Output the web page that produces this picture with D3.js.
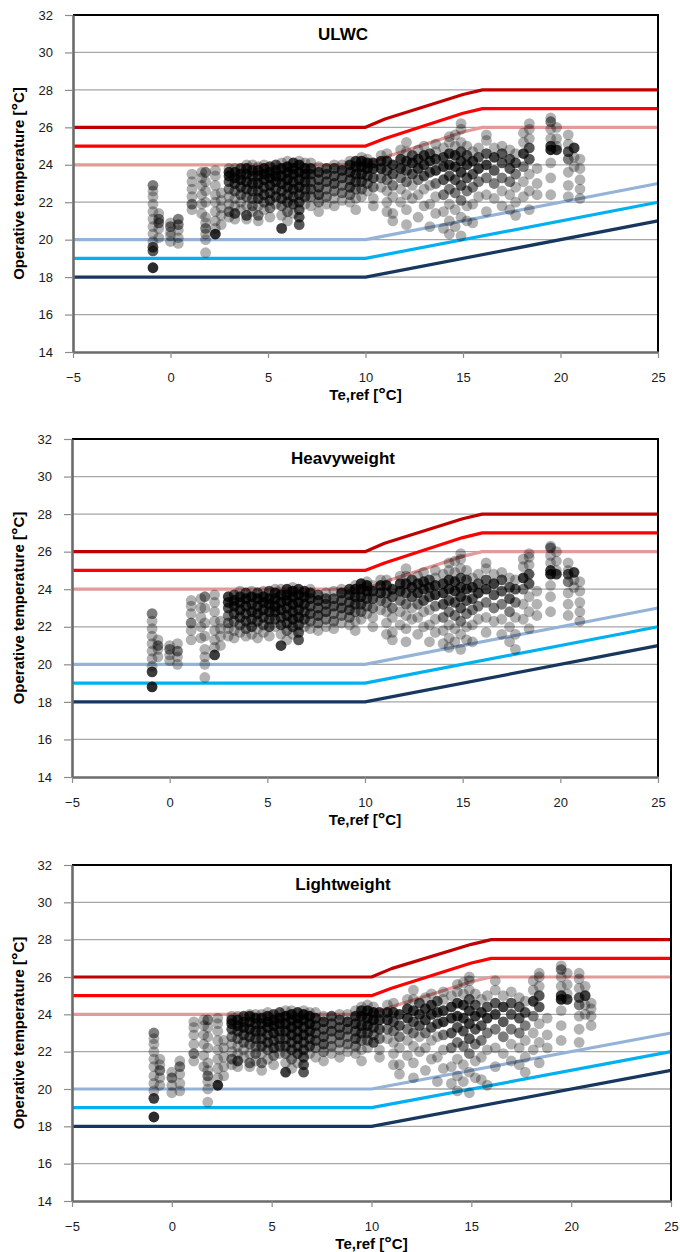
<!DOCTYPE html>
<html>
<head>
<meta charset="utf-8">
<script src="https://cdn.jsdelivr.net/npm/d3@7"></script>
<style>
  body { margin: 0; background: #fff; }
  svg { display: block; font-family: "Liberation Sans", Arial, sans-serif; }
</style>
</head>
<body>
<div class="canvas"></div>
<script>
// axis ticks
const xTicks = [-5, 0, 5, 10, 15, 20, 25];
const yTicks = [14, 16, 18, 20, 22, 24, 26, 28, 30, 32];

// comfort limits (upper bands bend between 10 and 16 °C)
const upperTe = [-5, 10, 11, 15, 16, 25];
const upperIII = [26, 26, 26.45, 27.75, 28, 28];
const upperII = [25, 25, 25.4, 26.75, 27, 27];
const upperI = [24, 24, 24.4, 25.75, 26, 26];
const lowerTe = [-5, 10, 25];
const lowerI = [20, 20, 23];
const lowerII = [19, 19, 22];
const lowerIII = [18, 18, 21];

// measured points: [Te,ref, [Top ... ]]  ([Top, n] = n readings on the same spot)
const ulwcPoints = [
  [-0.9, [[18.5,5], [19.4,3], [19.6,3], 19.9, 20.3, 20.7, 21.1, 21.5, 21.9, 22.3, 22.6, [22.9,2]]],
  [-0.6, [20.1, 20.6, [20.9,2], [21.1,2], 21.4]],
  [0.0, [19.9, 20.2, 20.4, [20.7,2], 20.9]],
  [0.4, [19.8, 20.1, 20.5, [20.8,2], [21.1,2]]],
  [1.1, [21.6, [21.9,2], 22.3, 22.7, 23.1, 23.5]],
  [1.6, [21.4, 21.9, 22.4, 22.9, 23.3, 23.6]],
  [1.8, [19.3, 20.0, 20.3, [20.6,2], 20.9, 21.2, 22.0, 22.6, 23.1, [23.6,2]]],
  [2.3, [[20.3,5], 20.6, 21.0, 21.5, 22.0, 22.4, 22.9, 23.4, 23.7]],
  [2.6, [20.8, 21.3, 21.7, 22.1, 22.5]],
  [3.0, [21.2, [21.5,2], 21.9, 22.3, [22.7,2], [23.1,3], [23.4,4], [23.6,4], 23.8]],
  [3.3, [21.1, [21.4,3], 21.8, 22.2, [22.6,2], [23.0,3], [23.3,4], [23.6,4], 23.8]],
  [3.6, [21.6, 22.0, [22.4,2], [22.8,3], [23.2,4], [23.5,4], [23.8,3]]],
  [3.9, [21.1, [21.3,3], 21.8, [22.3,2], [22.7,3], [23.1,4], [23.5,4], [23.8,4], 24.0]],
  [4.2, [21.5, [21.8,2], [22.2,2], [22.6,3], [23.0,4], [23.4,4], [23.7,4], 24.0]],
  [4.5, [21.0, [21.3,2], 21.8, [22.2,3], [22.6,3], [23.0,4], [23.4,4], [23.7,4], 23.9]],
  [4.8, [21.6, [22.0,2], [22.4,3], [22.8,3], [23.2,4], [23.5,5], [23.8,4], 24.0]],
  [5.1, [21.2, [21.7,2], [22.1,3], [22.5,3], [22.9,4], [23.3,5], [23.6,5], [23.9,3]]],
  [5.4, [21.9, [22.3,3], [22.7,3], [23.1,4], [23.4,5], [23.7,5], [24.0,3]]],
  [5.7, [[20.6,4], 21.3, [21.8,2], [22.2,3], [22.6,3], [23.0,4], [23.4,5], [23.8,5], 24.1]],
  [6.0, [21.0, [21.5,2], [22.0,3], [22.4,3], [22.8,4], [23.2,5], [23.6,5], [23.9,5], 24.2]],
  [6.3, [21.4, [21.9,3], [22.3,3], [22.7,4], [23.1,4], [23.5,5], [23.8,5], [24.1,4]]],
  [6.6, [[20.8,3], [21.2,3], [21.6,3], [22.0,3], [22.4,3], [22.8,4], [23.2,4], [23.6,5], [24.0,5], 24.2]],
  [6.9, [21.9, [22.3,3], [22.7,3], [23.1,4], [23.5,5], [23.8,5], 24.1]],
  [7.2, [21.8, [22.3,2], [22.7,3], [23.1,3], [23.5,4], [23.8,4], 24.1]],
  [7.6, [21.5, [22.0,2], [22.4,3], [22.8,3], [23.2,3], [23.6,4], 23.9]],
  [8.0, [21.9, [22.3,2], [22.7,2], [23.1,3], [23.5,3], [23.8,3]]],
  [8.4, [21.8, 22.2, [22.6,2], [23.0,3], [23.4,3], [23.8,3], 24.0]],
  [8.8, [22.1, [22.5,2], [22.9,2], [23.3,3], [23.7,4], 24.0]],
  [9.2, [22.0, [22.4,2], [22.8,3], [23.2,3], [23.6,4], [24.0,4], 24.2]],
  [9.5, [21.6, 22.2, [22.7,2], [23.1,3], [23.5,4], [23.9,5], [24.2,4]]],
  [9.8, [22.3, [22.7,2], [23.1,3], [23.5,4], [23.9,5], [24.2,5], 24.4]],
  [10.1, [22.6, [23.0,2], [23.4,3], [23.8,5], [24.1,5], 24.3]],
  [10.4, [21.8, 22.2, [22.8,2], [23.3,3], [23.8,4], [24.1,4]]],
  [10.8, [22.8, [23.3,2], [23.8,4], [24.2,4], 24.5]],
  [11.1, [21.5, 22.0, 22.6, [23.2,2], [23.7,3], [24.2,4], 24.6]],
  [11.4, [21.0, 21.4, 22.3, [22.9,2], [23.5,3], [24.0,4]]],
  [11.8, [22.0, 22.7, [23.3,2], [23.8,4], [24.3,4], 24.8]],
  [12.1, [20.8, 21.6, 22.4, [23.1,2], [23.7,3], [24.2,4], 24.7, 25.2]],
  [12.4, [22.2, 22.9, [23.5,3], [24.1,4], [24.5,3]]],
  [12.7, [21.2, 22.4, [23.2,2], [23.8,4], [24.3,4], 24.8]],
  [13.0, [21.8, 22.7, [23.4,3], [24.0,4], [24.5,4], 25.0]],
  [13.3, [20.7, 21.9, 22.9, [23.6,3], [24.2,4], [24.6,3]]],
  [13.6, [21.4, 22.3, [23.0,2], [23.7,4], [24.3,4], 24.7, 25.1]],
  [14.0, [20.6, 21.5, [22.4,2], [23.2,3], [23.9,4], [24.4,4], 24.9]],
  [14.3, [20.3, 21.0, 21.9, [22.7,2], [23.4,3], [24.0,4], [24.6,4], 25.2, 25.5]],
  [14.6, [20.7, 21.6, [22.5,2], [23.2,3], [23.9,4], [24.5,4], 25.0, 25.6]],
  [14.9, [20.2, 21.2, [22.1,2], [22.9,3], [23.6,4], [24.2,4], [24.7,3], 25.2, 25.9, 26.2]],
  [15.2, [21.0, 21.8, [22.6,2], [23.3,3], [24.0,4], [24.5,3], 25.0]],
  [15.5, [20.9, 21.9, [22.8,2], [23.5,3], [24.2,4], 24.7]],
  [15.8, [22.3, [23.1,2], [23.8,4], [24.4,3], 24.9]],
  [16.2, [21.5, 22.4, [23.3,2], [24.0,4], [24.6,3], 25.3, 25.6]],
  [16.6, [22.2, [23.0,2], [23.7,3], [24.4,4], 24.9]],
  [17.0, [21.8, 22.6, [23.3,2], [24.1,3], [24.6,3], 25.0]],
  [17.4, [21.6, 22.4, [23.1,2], [23.8,3], [24.3,3], 24.8]],
  [17.7, [21.3, 22.0, 22.8, [23.5,2], [24.1,3], 24.6]],
  [18.1, [22.3, 23.1, [23.9,2], [24.6,4], 25.2, 25.7]],
  [18.4, [21.6, 22.6, 23.5, [24.3,3], [24.9,3], 25.4, 25.9, 26.2]],
  [18.8, [22.4, 23.0, 23.8]],
  [19.5, [22.4, 23.3, 24.1, [24.8,5], [25.0,4], 25.4, 25.9, [26.3,2], 26.5]],
  [19.8, [[24.8,4], 25.0, 25.4, 26.0]],
  [20.4, [22.3, 22.9, 23.6, [24.3,2], [24.7,3], 25.1, 25.6]],
  [20.7, [23.9, 24.4, [24.9,4]]],
  [21.0, [22.2, 22.7, 23.2, 23.8, 24.3]]
];

const heavyPoints = [
  [-0.9, [[18.8,5], [19.6,4], 19.9, 20.3, 20.7, 21.1, 21.5, 21.9, 22.3, [22.7,2]]],
  [-0.6, [20.4, 20.8, [21.0,2], 21.3]],
  [0.0, [20.2, 20.5, [20.8,2], 21.0]],
  [0.4, [20.0, 20.4, [20.7,2], 21.1]],
  [1.1, [21.3, 21.8, [22.2,2], 22.7, 23.1, 23.4]],
  [1.6, [21.4, 22.0, 22.5, 23.0, 23.5]],
  [1.8, [19.3, 20.0, 20.4, 20.8, 21.5, 22.2, 23.0, [23.6,2]]],
  [2.3, [[20.5,4], 20.9, 21.3, 21.8, 22.3, 22.8, 23.3, 23.7]],
  [2.6, [21.0, 21.5, 21.9, 22.3]],
  [3.0, [21.5, 21.9, [22.2,2], [22.6,2], [23.0,3], [23.3,4], [23.6,4]]],
  [3.3, [21.4, 21.8, [22.3,2], [22.7,3], [23.1,4], [23.4,4], [23.7,3]]],
  [3.6, [21.7, [22.1,2], [22.5,3], [22.9,4], [23.3,4], [23.6,4], 23.9]],
  [3.9, [21.5, [21.9,2], [22.3,3], [22.7,3], [23.1,4], [23.5,5], [23.8,3]]],
  [4.2, [21.6, [22.0,3], [22.4,3], [22.8,4], [23.2,4], [23.6,5], 23.9]],
  [4.5, [21.4, 21.9, [22.3,3], [22.7,4], [23.1,4], [23.5,5], [23.8,3]]],
  [4.8, [21.7, [22.1,2], [22.5,3], [22.9,4], [23.3,5], [23.6,5], 23.9]],
  [5.1, [21.5, [22.0,3], [22.4,3], [22.8,4], [23.2,5], [23.5,5], [23.9,3]]],
  [5.4, [22.0, [22.4,3], [22.8,4], [23.1,5], [23.5,5], [23.8,4], 24.0]],
  [5.7, [[21.0,4], 21.6, [22.1,3], [22.5,3], [22.9,4], [23.3,5], [23.7,5], 24.0]],
  [6.0, [21.3, [21.8,2], [22.2,3], [22.6,4], [23.0,4], [23.4,5], [23.7,5], [24.0,4]]],
  [6.3, [21.6, [22.0,3], [22.4,4], [22.8,4], [23.2,5], [23.6,5], [23.9,5], 24.1]],
  [6.6, [[21.3,3], [21.7,3], [22.1,3], [22.5,4], [22.9,4], [23.3,5], [23.7,5], [24.0,4]]],
  [6.9, [22.0, [22.4,3], [22.8,3], [23.2,4], [23.6,5], [23.9,4]]],
  [7.2, [21.9, [22.3,2], [22.7,3], [23.1,3], [23.5,4], [23.8,4], 24.0]],
  [7.6, [21.8, [22.2,2], [22.6,3], [23.0,3], [23.4,4], [23.7,3]]],
  [8.0, [22.0, [22.4,2], [22.8,3], [23.2,3], [23.5,3], 23.8]],
  [8.4, [21.9, [22.3,2], [22.7,2], [23.1,3], [23.5,3], 23.9]],
  [8.8, [22.2, [22.6,2], [23.0,3], [23.4,3], [23.8,4], 24.0]],
  [9.2, [22.1, [22.5,2], [22.9,3], [23.3,3], [23.7,4], [24.0,4]]],
  [9.5, [21.8, 22.3, [22.8,2], [23.2,3], [23.6,4], [24.0,5], 24.2]],
  [9.8, [22.4, [22.8,2], [23.2,3], [23.6,4], [24.0,5], [24.3,5]]],
  [10.1, [22.7, [23.1,2], [23.5,3], [23.9,5], [24.2,5], 24.4]],
  [10.4, [22.0, 22.5, [23.0,2], [23.5,3], [23.9,4], 24.2]],
  [10.8, [22.9, [23.4,2], [23.8,4], [24.2,4], 24.5]],
  [11.1, [21.6, 22.2, 22.8, [23.3,2], [23.8,3], [24.2,4], 24.5]],
  [11.4, [21.3, 21.7, 22.5, [23.0,2], [23.6,3], [24.0,4]]],
  [11.8, [22.1, 22.8, [23.4,2], [23.9,4], [24.3,4], 24.7]],
  [12.1, [21.2, 21.9, 22.6, [23.2,2], [23.8,3], [24.3,4], 24.7, 25.1]],
  [12.4, [22.4, 23.0, [23.6,3], [24.1,4], [24.5,3]]],
  [12.7, [21.6, 22.5, [23.2,2], [23.8,4], [24.3,4], 24.7]],
  [13.0, [22.0, 22.8, [23.4,3], [24.0,4], [24.4,4], 24.9]],
  [13.3, [21.2, 22.1, 22.9, [23.6,3], [24.1,4], [24.5,3]]],
  [13.6, [21.7, 22.4, [23.1,2], [23.7,4], [24.2,4], 24.6, 25.0]],
  [14.0, [21.1, 21.8, [22.5,2], [23.2,3], [23.8,4], [24.3,4], 24.8]],
  [14.3, [20.9, 21.4, 22.1, [22.8,2], [23.4,3], [24.0,4], [24.5,4], 25.0, 25.4]],
  [14.6, [21.2, 21.9, [22.6,2], [23.3,3], [23.9,4], [24.4,4], 24.9, 25.5]],
  [14.9, [20.8, 21.6, [22.3,2], [23.0,3], [23.6,4], [24.1,4], [24.6,3], 25.1, 25.6, 25.9]],
  [15.2, [21.3, 22.0, [22.7,2], [23.4,3], [24.0,4], [24.5,3], 25.0]],
  [15.5, [21.2, 22.1, [22.9,2], [23.5,3], [24.1,4], 24.6]],
  [15.8, [22.4, [23.1,2], [23.8,4], [24.3,3], 24.8]],
  [16.2, [21.7, 22.5, [23.3,2], [24.0,4], [24.5,3], 25.1, 25.4]],
  [16.6, [22.3, [23.0,2], [23.7,3], [24.3,4], 24.8]],
  [17.0, [21.6, 22.4, [23.2,2], [23.9,3], [24.5,3], 24.9]],
  [17.4, [21.2, 22.0, [22.8,2], [23.5,3], [24.1,3], 24.6]],
  [17.7, [20.8, 21.6, 22.5, [23.3,2], [24.0,3], 24.5]],
  [18.1, [22.4, 23.2, [24.0,2], [24.6,4], 25.2, 25.6]],
  [18.4, [21.9, 22.8, 23.6, [24.3,3], [24.8,3], 25.3, 25.7, 25.9]],
  [18.8, [22.6, 23.2, 23.9]],
  [19.5, [22.8, 23.6, 24.2, [24.8,5], [25.0,4], 25.4, 25.8, [26.2,2], 26.3]],
  [19.8, [[24.8,4], 25.0, 25.5, 26.0]],
  [20.4, [22.6, 23.2, 23.8, [24.4,2], [24.8,3], 25.0, 25.4]],
  [20.7, [24.1, 24.5, [24.9,4]]],
  [21.0, [22.3, 22.8, 23.3, 23.9, 24.4]]
];

const lightPoints = [
  [-0.9, [[18.5,5], [19.5,4], 19.9, 20.3, 20.7, 21.2, 21.6, 22.0, 22.4, 22.7, [23.0,2]]],
  [-0.6, [20.2, 20.6, [21.0,2], 21.3, 21.6]],
  [0.0, [19.8, 20.2, [20.6,2], 20.9]],
  [0.4, [19.9, 20.3, 20.8, [21.2,2], 21.5]],
  [1.1, [21.5, [21.9,2], 22.4, 22.9, 23.3, 23.6]],
  [1.6, [21.2, 21.8, 22.4, 22.9, 23.4, 23.7]],
  [1.8, [19.3, 20.0, 20.4, [20.7,2], 21.0, 21.4, 22.2, 22.8, 23.3, [23.7,2]]],
  [2.3, [[20.2,5], 20.6, 21.1, 21.6, 22.1, 22.6, 23.1, 23.5, 23.8]],
  [2.6, [20.7, 21.2, 21.7, 22.2, 22.6]],
  [3.0, [21.3, [21.6,2], 22.0, 22.4, [22.8,2], [23.2,3], [23.5,4], [23.7,4], 23.9]],
  [3.3, [21.2, [21.5,3], 21.9, 22.3, [22.7,2], [23.1,3], [23.4,4], [23.7,4], 23.9]],
  [3.6, [21.7, 22.1, [22.5,2], [22.9,3], [23.3,4], [23.6,4], [23.9,3]]],
  [3.9, [21.2, [21.4,2], 21.9, [22.4,2], [22.8,3], [23.2,4], [23.6,4], [23.9,4], 24.0]],
  [4.2, [21.5, [21.9,2], [22.3,2], [22.7,3], [23.1,4], [23.5,4], [23.8,4], 24.0]],
  [4.5, [21.0, [21.4,2], 21.9, [22.3,3], [22.7,3], [23.1,4], [23.5,4], [23.8,4], 24.0]],
  [4.8, [21.6, [22.1,2], [22.5,3], [22.9,3], [23.3,4], [23.6,5], [23.9,4], 24.1]],
  [5.1, [21.3, [21.8,2], [22.2,3], [22.6,3], [23.0,4], [23.4,5], [23.7,5], [24.0,3]]],
  [5.4, [21.9, [22.3,3], [22.7,3], [23.1,4], [23.5,5], [23.8,5], [24.1,3]]],
  [5.7, [[20.9,4], 21.4, [21.9,2], [22.3,3], [22.7,3], [23.1,4], [23.5,5], [23.9,5], 24.2]],
  [6.0, [21.1, [21.6,2], [22.1,3], [22.5,3], [22.9,4], [23.3,5], [23.7,5], [24.0,5], 24.2]],
  [6.3, [21.4, [21.9,3], [22.3,3], [22.7,4], [23.1,4], [23.5,5], [23.8,5], [24.1,4]]],
  [6.6, [[20.9,3], [21.3,3], [21.7,3], [22.1,3], [22.5,3], [22.9,4], [23.3,4], [23.7,5], [24.0,5], 24.2]],
  [6.9, [21.9, [22.3,3], [22.7,3], [23.1,4], [23.5,5], [23.9,5], 24.1]],
  [7.2, [21.7, [22.2,2], [22.6,3], [23.0,3], [23.4,4], [23.8,4], 24.1]],
  [7.6, [21.5, [22.0,2], [22.4,3], [22.8,3], [23.2,3], [23.6,4], 23.9]],
  [8.0, [21.9, [22.3,2], [22.7,2], [23.1,3], [23.5,3], [23.9,3]]],
  [8.4, [21.7, 22.1, [22.5,2], [22.9,3], [23.3,3], [23.7,3], 24.0]],
  [8.8, [22.0, [22.4,2], [22.8,2], [23.2,3], [23.6,4], 24.0]],
  [9.2, [21.9, [22.3,2], [22.7,3], [23.1,3], [23.5,4], [23.9,4], 24.2]],
  [9.5, [21.5, 22.1, [22.6,2], [23.0,3], [23.4,4], [23.9,5], [24.2,4], 24.4]],
  [9.8, [22.2, [22.6,2], [23.0,3], [23.4,4], [23.8,5], [24.2,5], 24.5]],
  [10.1, [[22.5,3], [22.9,2], [23.3,3], [23.7,5], [24.1,5], 24.4]],
  [10.4, [21.7, 22.1, [22.7,2], [23.2,3], [23.7,4], [24.1,4]]],
  [10.8, [22.7, [23.2,2], [23.7,4], [24.1,4], 24.5]],
  [11.1, [21.3, 21.9, 22.5, [23.1,2], [23.6,3], [24.1,4], 24.6]],
  [11.4, [20.8, 21.3, 22.2, [22.8,2], [23.4,3], [24.0,4]]],
  [11.8, [21.8, 22.6, [23.2,2], [23.8,4], [24.3,4], 24.8]],
  [12.1, [20.6, 21.4, 22.3, [23.0,2], [23.6,3], [24.2,4], 24.8, 25.3]],
  [12.4, [22.0, 22.8, [23.4,3], [24.0,4], [24.6,3]]],
  [12.7, [21.0, 22.2, [23.0,2], [23.7,4], [24.3,4], 24.9]],
  [13.0, [21.6, 22.6, [23.3,3], [24.0,4], [24.5,4], 25.1]],
  [13.3, [20.4, 21.7, 22.8, [23.5,3], [24.1,4], [24.7,3]]],
  [13.6, [21.1, 22.1, [22.9,2], [23.6,4], [24.2,4], 24.8, 25.2]],
  [14.0, [20.3, 21.2, [22.2,2], [23.0,3], [23.8,4], [24.4,4], 25.0]],
  [14.3, [19.9, 20.7, 21.6, [22.5,2], [23.3,3], [23.9,4], [24.6,4], 25.2, 25.6]],
  [14.6, [20.4, 21.3, [22.3,2], [23.1,3], [23.8,4], [24.5,4], 25.1, 25.7]],
  [14.9, [19.8, 20.9, [21.9,2], [22.7,3], [23.5,4], [24.2,4], [24.8,3], 25.3, 25.8, 26.0]],
  [15.2, [20.6, 21.5, [22.4,2], [23.2,3], [23.9,4], [24.5,3], 25.1]],
  [15.5, [20.5, 21.7, [22.6,2], [23.4,3], [24.1,4], 24.8]],
  [15.8, [20.2, 22.1, [23.0,2], [23.8,4], [24.4,3], 25.0]],
  [16.2, [21.2, 22.2, [23.2,2], [24.0,4], [24.6,3], 25.3, 25.8]],
  [16.6, [21.9, [22.8,2], [23.6,3], [24.4,4], 25.0]],
  [17.0, [21.5, 22.4, [23.2,2], [24.0,3], [24.6,3], 25.2]],
  [17.4, [21.3, 22.2, [23.0,2], [23.8,3], [24.4,3], 24.9]],
  [17.7, [20.9, 21.7, 22.6, [23.4,2], [24.1,3], 24.7]],
  [18.1, [22.1, 23.0, [23.9,2], [24.7,4], 25.3, 25.8]],
  [18.4, [21.4, 22.5, 23.5, [24.4,3], [25.0,3], 25.5, 26.0, 26.2]],
  [18.8, [22.2, 22.9, 23.8]],
  [19.5, [22.6, 23.4, 24.2, [24.8,5], [25.0,4], 25.5, 26.0, [26.4,2], 26.6]],
  [19.8, [[24.8,4], 25.1, 25.6, 26.2]],
  [20.4, [22.5, 23.2, 23.9, [24.5,2], [24.9,3], 25.4, 25.9, 26.2]],
  [20.7, [24.0, 24.5, [25.0,4], 25.5]],
  [21.0, [23.4, 23.9, 24.3, 24.6]]
];

// layout
const width = 680, height = 1252;
const panels = [
  { title: 'ULWC', points: ulwcPoints, left: 73, right: 658, top: 15, bottom: 352 },
  { title: 'Heavyweight', points: heavyPoints, left: 72, right: 658, top: 439, bottom: 777 },
  { title: 'Lightweight', points: lightPoints, left: 72, right: 671, top: 865, bottom: 1201 }
];

const limits = [
  { te: upperTe, values: upperI, color: '#e39a98' },
  { te: upperTe, values: upperII, color: '#ff0000' },
  { te: upperTe, values: upperIII, color: '#c00000' },
  { te: lowerTe, values: lowerI, color: '#95b3d7' },
  { te: lowerTe, values: lowerII, color: '#00b0f0' },
  { te: lowerTe, values: lowerIII, color: '#17375e' }
];

const pointAlpha = 0.3;

const svg = d3.select('.canvas')
  .append('svg')
    .attr('width', width)
    .attr('height', height);

const drawPanel = p => {
  const x = d3.scaleLinear().domain([-5, 25]).range([p.left, p.right]);
  const y = d3.scaleLinear().domain([14, 32]).range([p.bottom, p.top]);
  const g = svg.append('g');

  // horizontal gridlines
  g.append('g')
    .selectAll('line')
    .data(yTicks.slice(1, -1))
    .join('line')
      .attr('x1', p.left)
      .attr('x2', p.right)
      .attr('y1', d => y(d))
      .attr('y2', d => y(d))
      .attr('stroke', '#a6a6a6')
      .attr('stroke-width', 1.3);

  // comfort limit lines
  const line = d3.line()
    .x(d => x(d[0]))
    .y(d => y(d[1]));

  g.append('g')
    .selectAll('path')
    .data(limits)
    .join('path')
      .attr('d', d => line(d3.zip(d.te, d.values)))
      .attr('fill', 'none')
      .attr('stroke', d => d.color)
      .attr('stroke-width', 3.2)
      .attr('stroke-linejoin', 'round');

  // scatter
  const pts = p.points.flatMap(([te, temps]) =>
    temps.map(v => Array.isArray(v) ? { te, t: v[0], n: v[1] } : { te, t: v, n: 1 }));

  g.append('g')
    .selectAll('circle')
    .data(pts)
    .join('circle')
      .attr('cx', d => x(d.te))
      .attr('cy', d => y(d.t))
      .attr('r', 5.4)
      .attr('fill', '#000')
      .attr('fill-opacity', d => 1 - Math.pow(1 - pointAlpha, d.n));

  // top and right frame
  g.append('path')
    .attr('d', `M${p.left},${p.top}H${p.right}V${p.bottom}`)
    .attr('fill', 'none')
    .attr('stroke', '#000')
    .attr('stroke-width', 2);

  // axes
  const yAxis = g.append('g')
    .attr('transform', `translate(${p.left},0)`)
    .call(d3.axisLeft(y).tickValues(yTicks).tickSize(8).tickSizeOuter(0).tickPadding(12));

  const xAxis = g.append('g')
    .attr('transform', `translate(0,${p.bottom})`)
    .call(d3.axisBottom(x).tickValues(xTicks).tickSize(6).tickSizeOuter(0).tickPadding(15));

  [xAxis, yAxis].forEach(ax => {
    ax.select('.domain').attr('stroke', '#6b6b6b').attr('stroke-width', 2.6);
    ax.selectAll('.tick line').attr('stroke', '#8c8c8c').attr('stroke-width', 1.2);
    ax.selectAll('.tick text')
      .attr('fill', '#1a1a1a')
      .style('font-size', '13px')
      .style('font-family', '"Liberation Sans", Arial, sans-serif');
  });

  // panel title
  g.append('text')
    .attr('x', 343)
    .attr('y', p.top + 25)
    .attr('text-anchor', 'middle')
    .style('font-size', '17px')
    .style('font-weight', 'bold')
    .text(p.title);

  // x axis title
  const xt = g.append('text')
    .attr('x', (p.left + p.right) / 2)
    .attr('y', p.bottom + 48)
    .attr('text-anchor', 'middle')
    .style('font-size', '15px')
    .style('font-weight', 'bold');
  xt.append('tspan').text('Te,ref [');
  xt.append('tspan').text('°').style('font-size', '19px');
  xt.append('tspan').text('C]');

  // y axis title
  const yt = g.append('text')
    .attr('transform', `translate(24,${(p.top + p.bottom) / 2}) rotate(-90)`)
    .attr('text-anchor', 'middle')
    .style('font-size', '15px')
    .style('font-weight', 'bold');
  yt.append('tspan').text('Operative temperature [');
  yt.append('tspan').text('°').style('font-size', '19px');
  yt.append('tspan').text('C]');
};

panels.forEach(drawPanel);
</script>
</body>
</html>
